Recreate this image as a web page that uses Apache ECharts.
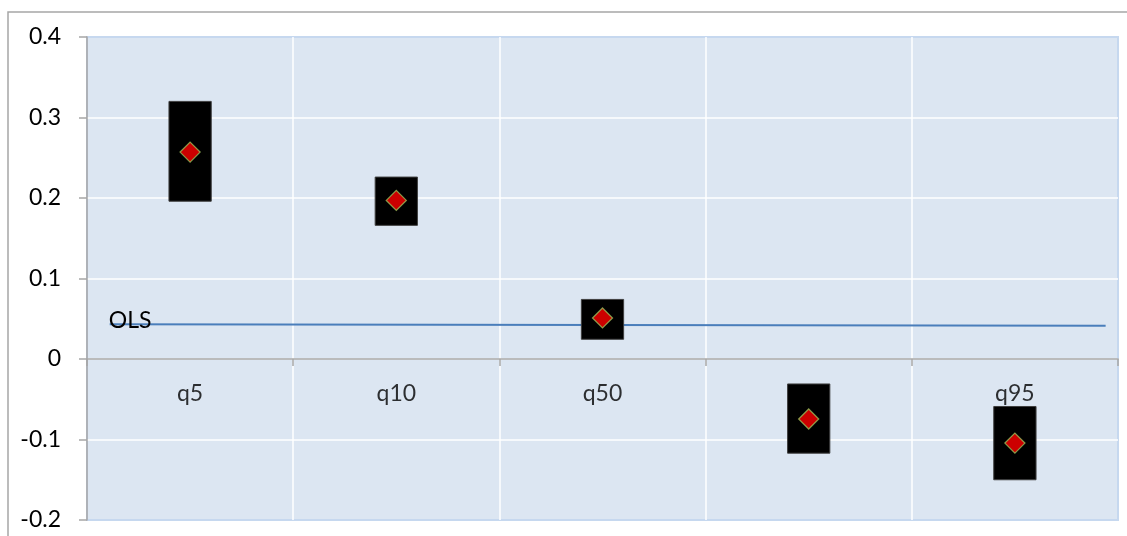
<!DOCTYPE html>
<html>
<head>
<meta charset="utf-8">
<title>Quantile estimates vs OLS</title>
<script src="https://cdn.jsdelivr.net/npm/echarts@6/dist/echarts.min.js"></script>
<style>
  html, body { margin: 0; padding: 0; background: #ffffff; }
  #chart { width: 1127px; height: 536px; }
</style>
</head>
<body>
<div id="chart"></div>
<script>
// Quantile labels (the fourth one is left blank on the axis)
var categories = ['q5', 'q10', 'q50', '', 'q95'];
// Confidence band per quantile: lower and upper bounds
var lowerBound = [0.196, 0.166, 0.0245, -0.117, -0.150];
var upperBound = [0.320, 0.226, 0.074, -0.031, -0.059];
// Point estimate per quantile
var estimates = [0.257, 0.197, 0.051, -0.0745, -0.1045];
// OLS reference line: [position along the category span, value]
var olsLine = [[0.61, 0.0431], [5.44, 0.0414]];
var yTicks = { min: -0.2, max: 0.4, interval: 0.1 };

var FONT = 'Lato';
var FONT_SIZE = 23;

var bandData = categories.map(function (c, i) { return [i, lowerBound[i], upperBound[i]]; });
var pointData = categories.map(function (c, i) { return [i, estimates[i]]; });
// Category names sit just under the zero line
var labelData = categories.map(function (c, i) { return [i, 0]; });

var chart = echarts.init(document.getElementById('chart'), null, { renderer: 'canvas' });

chart.setOption({
  animation: false,
  backgroundColor: '#ffffff',
  textStyle: { fontFamily: FONT },
  graphic: [{
    type: 'rect',
    z: 0,
    silent: true,
    shape: { x: 8, y: 12, width: 1200, height: 600 },
    style: { fill: 'none', stroke: '#a6a6a6', lineWidth: 1.5 }
  }],
  grid: {
    left: 87, top: 37, right: 9, bottom: 16,
    containLabel: false,
    outerBoundsMode: 'none',
    show: true,
    backgroundColor: '#dce6f2',
    borderColor: '#c6d8ef',
    borderWidth: 2
  },
  xAxis: [{
    type: 'category',
    data: categories,
    boundaryGap: true,
    axisLine: { onZero: true, lineStyle: { color: '#a6a6a6', width: 1.5 } },
    axisTick: { show: true, length: 7, lineStyle: { color: '#a6a6a6', width: 1.5 } },
    axisLabel: { show: false },
    splitLine: { show: true, showMinLine: false, showMaxLine: false, lineStyle: { color: '#ffffff', width: 1.5 } }
  }, {
    type: 'value',
    min: 0.5, max: 5.5,
    show: false
  }],
  yAxis: {
    type: 'value',
    min: yTicks.min, max: yTicks.max, interval: yTicks.interval,
    axisLine: { show: true, onZero: false, lineStyle: { color: '#a6a6a6', width: 1.5 } },
    axisTick: { show: true, length: 8, lineStyle: { color: '#a6a6a6', width: 1.5 } },
    axisLabel: {
      color: '#000000', fontSize: FONT_SIZE, fontFamily: FONT, margin: 26,
      formatter: function (v) { return Math.round(v * 10) / 10 + ''; }
    },
    splitLine: { show: true, showMinLine: false, showMaxLine: false, lineStyle: { color: '#ffffff', width: 1.5 } }
  },
  series: [{
    name: 'categoryNames',
    type: 'scatter',
    xAxisIndex: 0,
    data: labelData,
    symbolSize: 0,
    silent: true,
    z: 1,
    label: {
      show: true,
      position: 'bottom',
      distance: 23,
      color: '#000000',
      fontSize: FONT_SIZE,
      fontFamily: FONT,
      formatter: function (p) { return categories[p.dataIndex]; }
    }
  }, {
    name: 'OLS',
    type: 'line',
    xAxisIndex: 1,
    data: olsLine,
    symbol: 'circle',
    symbolSize: 0.1,
    z: 3,
    lineStyle: { color: '#4a7ebb', width: 2 },
    itemStyle: { color: '#4a7ebb' },
    label: {
      show: true,
      position: 'right',
      distance: 0,
      offset: [-1, -4],
      color: '#000000',
      fontSize: FONT_SIZE,
      fontFamily: FONT,
      formatter: function (p) { return p.dataIndex === 0 ? 'OLS' : ''; }
    }
  }, {
    name: 'band',
    type: 'custom',
    xAxisIndex: 0,
    data: bandData,
    z: 4,
    renderItem: function (params, api) {
      var x = api.value(0);
      var top = api.coord([x, api.value(2)]);
      var bottom = api.coord([x, api.value(1)]);
      var w = api.size([1, 0])[0] * 0.205;
      return {
        type: 'rect',
        shape: { x: top[0] - w / 2, y: top[1], width: w, height: bottom[1] - top[1] },
        style: { fill: '#000000', stroke: '#3f3f3f', lineWidth: 1 }
      };
    }
  }, {
    name: 'estimate',
    type: 'scatter',
    xAxisIndex: 0,
    data: pointData,
    z: 5,
    symbol: 'diamond',
    symbolSize: [20, 20],
    itemStyle: { color: '#ff0000', borderColor: '#9bbb59', borderWidth: 1.3 }
  }]
});
</script>
</body>
</html>
